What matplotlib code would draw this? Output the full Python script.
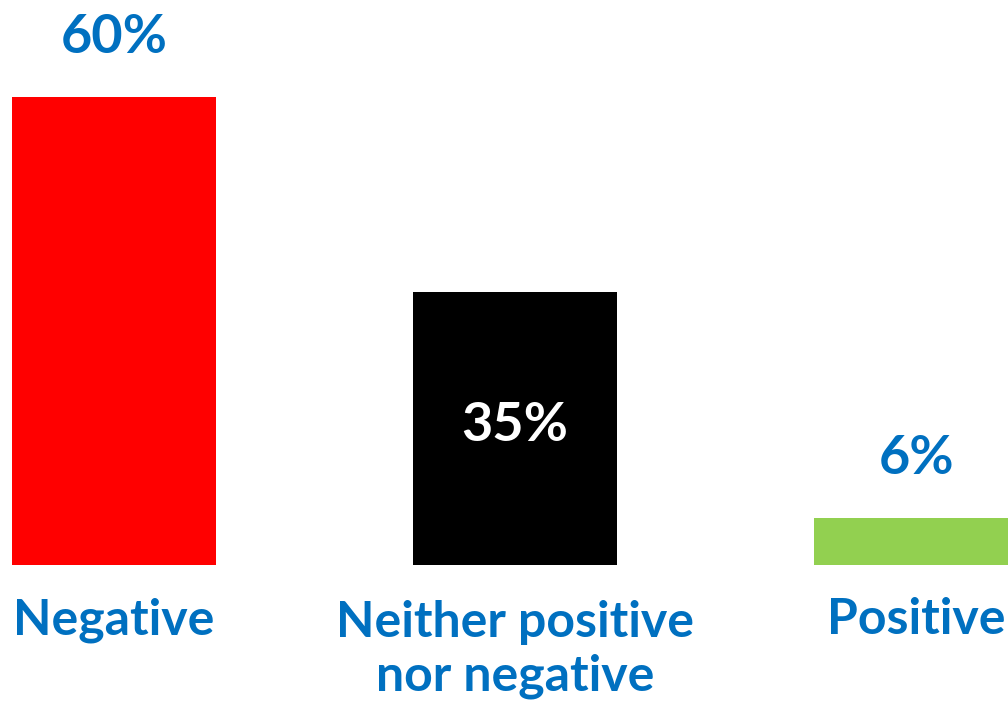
import matplotlib
matplotlib.use("Agg")
import matplotlib.pyplot as plt

categories = ["Negative", "Neither positive\nnor negative", "Positive"]
values = [60, 35, 6]
labels = ["60%", "35%", "6%"]
colors = ["#FF0000", "#000000", "#92D050"]

blue = "#0070C0"
plt.rcParams['font.family'] = ['Lato', 'DejaVu Sans']

fig = plt.figure(figsize=(10.08, 7.01), dpi=100)
ax = fig.add_axes([0, 0, 1, 1])
x = list(range(len(categories)))
bars = ax.bar(x, values, width=0.51, color=colors)

ax.set_xlim(-0.284, 2.229)
ax.set_ylim(-17.4, 72.4)
ax.axis("off")

for i, (b, v, lab) in enumerate(zip(bars, values, labels)):
    if i == 1:
        ax.text(b.get_x() + b.get_width() / 2, v * 0.51, lab, ha="center", va="center",
                color="white", fontsize=39, fontweight="bold")
    else:
        ax.annotate(lab, (b.get_x() + b.get_width() / 2, v), xytext=(0, 43),
                    textcoords="offset points", ha="center", va="center",
                    color=blue, fontsize=39, fontweight="bold")

for i, cat in enumerate(categories):
    ax.text(x[i], -7.0 if "\n" not in cat else -10.8, cat, ha="center", va="center",
            color=blue, fontsize=36, fontweight="bold", linespacing=1.22)

fig.savefig("out.png", dpi=100)
